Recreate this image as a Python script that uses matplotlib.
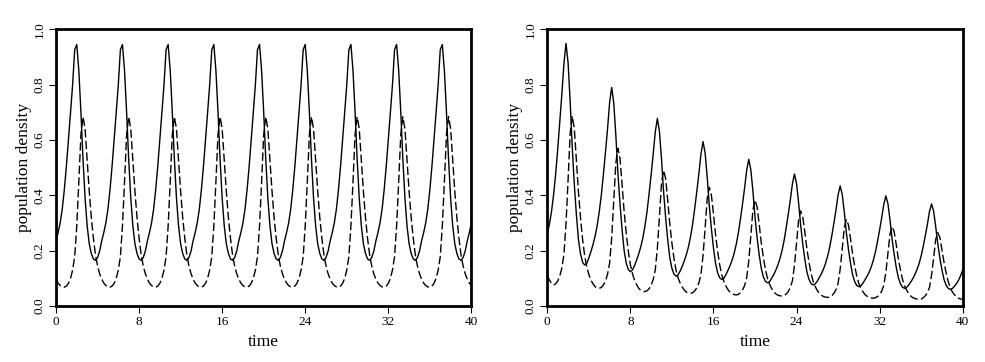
import numpy as np
import matplotlib
matplotlib.use("Agg")
import matplotlib.pyplot as plt

plt.rcParams['font.family'] = ['Liberation Serif', 'DejaVu Serif']
plt.rcParams['lines.scale_dashes'] = False

# time grid (0 to 40, step 0.2)
time = np.linspace(0, 40, 201)

# Left panel: sustained cycles (prey = solid, predator = dashed)
prey_left = [
    0.235, 0.265, 0.300, 0.350, 0.420, 0.505, 0.600, 0.700, 0.800, 0.926, 0.945, 0.850, 0.700, 0.530, 0.390, 0.290, 0.225, 0.190, 0.170, 0.165, 0.175, 0.198,
    0.235, 0.265, 0.300, 0.350, 0.420, 0.505, 0.600, 0.700, 0.800, 0.926, 0.945, 0.850, 0.700, 0.530, 0.390, 0.290, 0.225, 0.190, 0.170, 0.165, 0.175, 0.198,
    0.235, 0.265, 0.300, 0.350, 0.420, 0.505, 0.600, 0.700, 0.800, 0.926, 0.945, 0.850, 0.700, 0.530, 0.390, 0.290, 0.225, 0.190, 0.170, 0.165, 0.175, 0.198,
    0.235, 0.265, 0.300, 0.350, 0.420, 0.505, 0.600, 0.700, 0.800, 0.926, 0.945, 0.850, 0.700, 0.530, 0.390, 0.290, 0.225, 0.190, 0.170, 0.165, 0.175, 0.198,
    0.235, 0.265, 0.300, 0.350, 0.420, 0.505, 0.600, 0.700, 0.800, 0.926, 0.945, 0.850, 0.700, 0.530, 0.390, 0.290, 0.225, 0.190, 0.170, 0.165, 0.175, 0.198,
    0.235, 0.265, 0.300, 0.350, 0.420, 0.505, 0.600, 0.700, 0.800, 0.926, 0.945, 0.850, 0.700, 0.530, 0.390, 0.290, 0.225, 0.190, 0.170, 0.165, 0.175, 0.198,
    0.235, 0.265, 0.300, 0.350, 0.420, 0.505, 0.600, 0.700, 0.800, 0.926, 0.945, 0.850, 0.700, 0.530, 0.390, 0.290, 0.225, 0.190, 0.170, 0.165, 0.175, 0.198,
    0.235, 0.265, 0.300, 0.350, 0.420, 0.505, 0.600, 0.700, 0.800, 0.926, 0.945, 0.850, 0.700, 0.530, 0.390, 0.290, 0.225, 0.190, 0.170, 0.165, 0.175, 0.198,
    0.235, 0.265, 0.300, 0.350, 0.420, 0.505, 0.600, 0.700, 0.800, 0.926, 0.945, 0.850, 0.700, 0.530, 0.390, 0.290, 0.225, 0.190, 0.170, 0.165, 0.175, 0.198,
    0.235, 0.265, 0.300,
]
pred_left = [
    0.097, 0.083, 0.074, 0.069, 0.068, 0.072, 0.082, 0.100, 0.130, 0.178, 0.290, 0.450, 0.620, 0.684, 0.640, 0.530, 0.415, 0.320, 0.245, 0.185, 0.145, 0.117,
    0.097, 0.083, 0.074, 0.069, 0.068, 0.072, 0.082, 0.100, 0.130, 0.178, 0.290, 0.450, 0.620, 0.684, 0.640, 0.530, 0.415, 0.320, 0.245, 0.185, 0.145, 0.117,
    0.097, 0.083, 0.074, 0.069, 0.068, 0.072, 0.082, 0.100, 0.130, 0.178, 0.290, 0.450, 0.620, 0.684, 0.640, 0.530, 0.415, 0.320, 0.245, 0.185, 0.145, 0.117,
    0.097, 0.083, 0.074, 0.069, 0.068, 0.072, 0.082, 0.100, 0.130, 0.178, 0.290, 0.450, 0.620, 0.684, 0.640, 0.530, 0.415, 0.320, 0.245, 0.185, 0.145, 0.117,
    0.097, 0.083, 0.074, 0.069, 0.068, 0.072, 0.082, 0.100, 0.130, 0.178, 0.290, 0.450, 0.620, 0.684, 0.640, 0.530, 0.415, 0.320, 0.245, 0.185, 0.145, 0.117,
    0.097, 0.083, 0.074, 0.069, 0.068, 0.072, 0.082, 0.100, 0.130, 0.178, 0.290, 0.450, 0.620, 0.684, 0.640, 0.530, 0.415, 0.320, 0.245, 0.185, 0.145, 0.117,
    0.097, 0.083, 0.074, 0.069, 0.068, 0.072, 0.082, 0.100, 0.130, 0.178, 0.290, 0.450, 0.620, 0.684, 0.640, 0.530, 0.415, 0.320, 0.245, 0.185, 0.145, 0.117,
    0.097, 0.083, 0.074, 0.069, 0.068, 0.072, 0.082, 0.100, 0.130, 0.178, 0.290, 0.450, 0.620, 0.684, 0.640, 0.530, 0.415, 0.320, 0.245, 0.185, 0.145, 0.117,
    0.097, 0.083, 0.074, 0.069, 0.068, 0.072, 0.082, 0.100, 0.130, 0.178, 0.290, 0.450, 0.620, 0.684, 0.640, 0.530, 0.415, 0.320, 0.245, 0.185, 0.145, 0.117,
    0.097, 0.083, 0.074,
]

# Right panel: damped cycles
prey_right = [
    0.260, 0.295, 0.340, 0.400, 0.475, 0.565, 0.665, 0.765, 0.875, 0.949,
    0.880, 0.740, 0.575, 0.440, 0.330, 0.240, 0.188, 0.158, 0.148,
    0.154, 0.174, 0.196, 0.222, 0.252, 0.290, 0.340, 0.400, 0.475, 0.555, 0.640, 0.735, 0.790,
    0.733, 0.617, 0.480, 0.370, 0.276, 0.200, 0.155, 0.132, 0.124,
    0.130, 0.146, 0.166, 0.188, 0.214, 0.246, 0.288, 0.340, 0.405, 0.475, 0.550, 0.630, 0.678,
    0.630, 0.530, 0.412, 0.318, 0.238, 0.174, 0.136, 0.115, 0.108,
    0.113, 0.127, 0.144, 0.164, 0.187, 0.215, 0.252, 0.297, 0.354, 0.415, 0.480, 0.550, 0.594,
    0.552, 0.465, 0.362, 0.280, 0.210, 0.155, 0.120, 0.102, 0.096,
    0.100, 0.113, 0.129, 0.146, 0.166, 0.192, 0.224, 0.265, 0.315, 0.369, 0.427, 0.491, 0.530,
    0.492, 0.415, 0.322, 0.248, 0.186, 0.137, 0.106, 0.089, 0.084,
    0.088, 0.100, 0.113, 0.129, 0.148, 0.171, 0.200, 0.236, 0.282, 0.331, 0.383, 0.441, 0.477,
    0.443, 0.373, 0.291, 0.224, 0.168, 0.123, 0.096, 0.081, 0.076,
    0.080, 0.090, 0.103, 0.117, 0.134, 0.155, 0.181, 0.214, 0.255, 0.300, 0.348, 0.401, 0.434,
    0.403, 0.339, 0.264, 0.205, 0.154, 0.113, 0.088, 0.074, 0.070,
    0.073, 0.083, 0.095, 0.108, 0.123, 0.142, 0.166, 0.196, 0.234, 0.275, 0.319, 0.367, 0.398,
    0.370, 0.311, 0.242, 0.187, 0.140, 0.103, 0.081, 0.068, 0.064,
    0.067, 0.076, 0.087, 0.099, 0.114, 0.132, 0.153, 0.181, 0.216, 0.254, 0.295, 0.341, 0.369,
    0.343, 0.287, 0.225, 0.174, 0.131, 0.096, 0.075, 0.064, 0.060,
    0.063, 0.071, 0.081, 0.093, 0.110, 0.130,
]
pred_right = [
    0.110, 0.094, 0.082, 0.076,
    0.080, 0.090, 0.108, 0.137, 0.186, 0.296, 0.455, 0.623, 0.687,
    0.642, 0.530, 0.412, 0.318, 0.240, 0.181, 0.142, 0.114, 0.094, 0.080, 0.070, 0.065, 0.064,
    0.067, 0.076, 0.090, 0.115, 0.155, 0.246, 0.378, 0.517, 0.570,
    0.533, 0.440, 0.341, 0.263, 0.198, 0.149, 0.117, 0.093, 0.077, 0.064, 0.057, 0.053, 0.052,
    0.055, 0.062, 0.075, 0.096, 0.131, 0.210, 0.324, 0.445, 0.491,
    0.459, 0.380, 0.295, 0.227, 0.171, 0.129, 0.101, 0.082, 0.068, 0.057, 0.050, 0.047, 0.046,
    0.048, 0.055, 0.066, 0.084, 0.115, 0.184, 0.283, 0.389, 0.429,
    0.401, 0.333, 0.258, 0.198, 0.149, 0.113, 0.089, 0.072, 0.059, 0.049, 0.044, 0.041, 0.040,
    0.042, 0.048, 0.058, 0.074, 0.102, 0.163, 0.253, 0.347, 0.383,
    0.358, 0.297, 0.230, 0.177, 0.133, 0.100, 0.079, 0.063, 0.052, 0.044, 0.039, 0.037, 0.036,
    0.038, 0.043, 0.052, 0.067, 0.091, 0.147, 0.227, 0.312, 0.344,
    0.322, 0.267, 0.206, 0.158, 0.118, 0.089, 0.070, 0.056, 0.046, 0.039, 0.034, 0.032, 0.031,
    0.033, 0.037, 0.046, 0.059, 0.082, 0.133, 0.206, 0.284, 0.313,
    0.293, 0.243, 0.188, 0.144, 0.108, 0.081, 0.063, 0.051, 0.041, 0.035, 0.031, 0.029, 0.028,
    0.030, 0.034, 0.041, 0.054, 0.075, 0.121, 0.189, 0.260, 0.287,
    0.269, 0.222, 0.171, 0.131, 0.097, 0.073, 0.057, 0.045, 0.036, 0.030, 0.027, 0.025, 0.024,
    0.025, 0.030, 0.037, 0.048, 0.067, 0.111, 0.173, 0.240, 0.265,
    0.248, 0.204, 0.158, 0.120, 0.089, 0.066, 0.051, 0.041, 0.033, 0.028, 0.025, 0.025,
]

x_ticks = [0, 8, 16, 24, 32, 40]
y_ticks = [0.0, 0.2, 0.4, 0.6, 0.8, 1.0]
y_tick_labels = ["0.0", "0.2", "0.4", "0.6", "0.8", "1.0"]
x_label = "time"
y_label = "population density"

W, H = 985, 362
fig = plt.figure(figsize=(W / 100, H / 100), dpi=100)

panels = [
    (56.0, prey_left, pred_left),
    (547.3, prey_right, pred_right),
]
for left_px, prey, pred in panels:
    ax = fig.add_axes([left_px / W, (H - 306) / H, 415.4 / W, 276.7 / H])
    ax.plot(time, prey, color="black", lw=1.0, solid_joinstyle="round")
    ax.plot(time, pred, color="black", lw=1.0, linestyle=(0, (6.0, 2.4)))
    ax.set_xlim(0, 40)
    ax.set_ylim(0, 1)
    ax.set_xticks(x_ticks)
    ax.set_xticklabels([str(v) for v in x_ticks], fontsize=9.5)
    ax.set_yticks(y_ticks)
    ax.set_yticklabels(y_tick_labels, fontsize=9.5, rotation=90, va="center")
    ax.tick_params(direction="out", length=5, width=0.8, color="black", pad=2.5)
    for s in ax.spines.values():
        s.set_linewidth(2.0)
        s.set_color("black")
    ax.set_xlabel(x_label, fontsize=12.5, labelpad=4)
    ax.set_ylabel(y_label, fontsize=12.5, labelpad=1)

fig.savefig("out.png", dpi=100)
